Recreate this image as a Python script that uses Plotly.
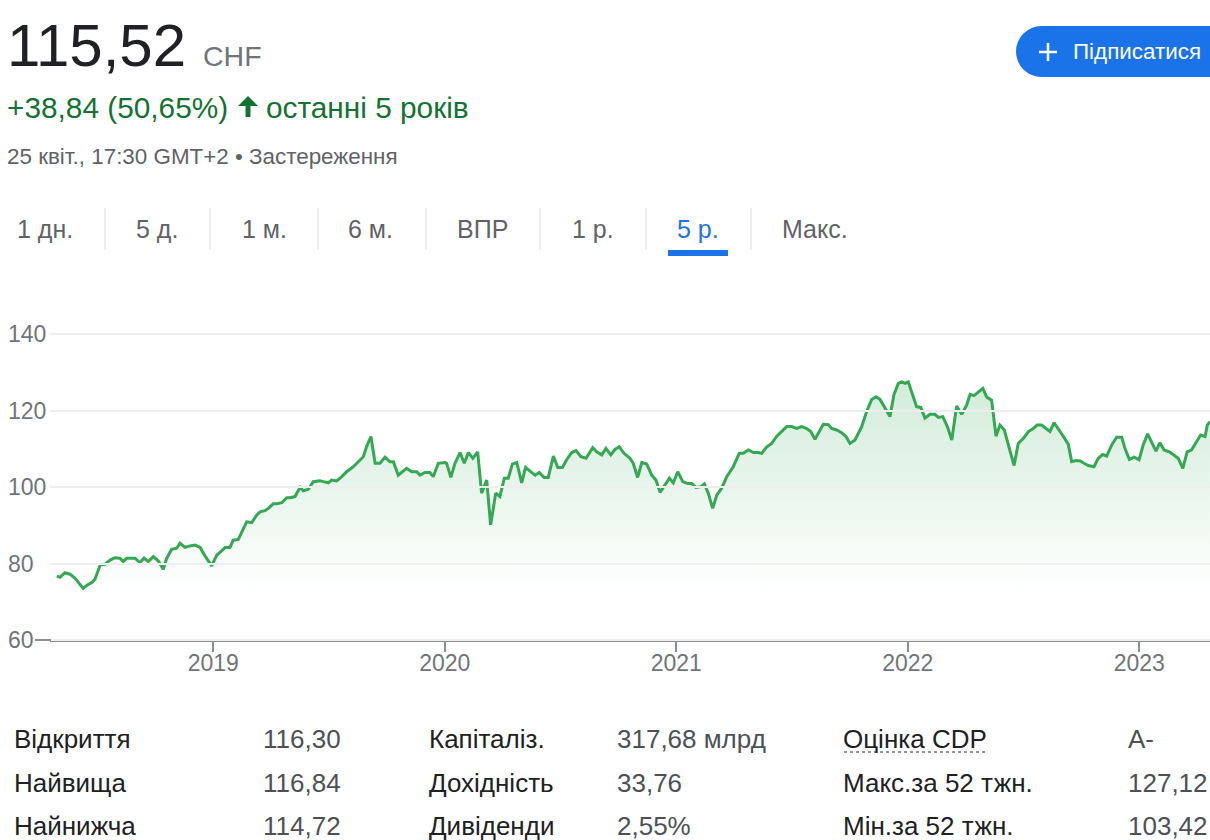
import plotly.graph_objects as go

# ---------------- data ----------------
dates_dec = [
    2018.324, 2018.338, 2018.359, 2018.381, 2018.403, 2018.438, 2018.456, 2018.475, 2018.489, 2018.511,
    2018.532, 2018.554, 2018.575, 2018.597, 2018.611, 2018.626, 2018.662, 2018.683, 2018.701, 2018.719,
    2018.741, 2018.762, 2018.784, 2018.799, 2018.820, 2018.842, 2018.856, 2018.878, 2018.899, 2018.921,
    2018.943, 2018.964, 2018.993, 2019.015, 2019.036, 2019.051, 2019.072, 2019.086, 2019.108, 2019.130,
    2019.144, 2019.166, 2019.188, 2019.202, 2019.223, 2019.238, 2019.259, 2019.274, 2019.296, 2019.317,
    2019.331, 2019.353, 2019.375, 2019.389, 2019.410, 2019.432, 2019.461, 2019.475, 2019.497, 2019.511,
    2019.533, 2019.555, 2019.576, 2019.605, 2019.626, 2019.648, 2019.663, 2019.681, 2019.699, 2019.720,
    2019.742, 2019.763, 2019.778, 2019.799, 2019.835, 2019.857, 2019.879, 2019.893, 2019.914, 2019.936,
    2019.950, 2019.972, 2020.001, 2020.008, 2020.026, 2020.044, 2020.066, 2020.084, 2020.102, 2020.121,
    2020.142, 2020.159, 2020.181, 2020.198, 2020.220, 2020.238, 2020.257, 2020.274, 2020.292, 2020.311,
    2020.332, 2020.349, 2020.371, 2020.390, 2020.408, 2020.429, 2020.447, 2020.469, 2020.488, 2020.508,
    2020.527, 2020.548, 2020.567, 2020.588, 2020.610, 2020.639, 2020.656, 2020.678, 2020.696, 2020.717,
    2020.735, 2020.754, 2020.774, 2020.800, 2020.814, 2020.833, 2020.851, 2020.872, 2020.894, 2020.912,
    2020.930, 2020.951, 2020.970, 2020.987, 2021.006, 2021.028, 2021.049, 2021.067, 2021.085, 2021.107,
    2021.121, 2021.138, 2021.157, 2021.175, 2021.196, 2021.218, 2021.246, 2021.272, 2021.289, 2021.311,
    2021.333, 2021.354, 2021.369, 2021.391, 2021.412, 2021.434, 2021.455, 2021.477, 2021.499, 2021.520,
    2021.542, 2021.563, 2021.581, 2021.599, 2021.635, 2021.657, 2021.671, 2021.693, 2021.714, 2021.733,
    2021.750, 2021.772, 2021.801, 2021.822, 2021.844, 2021.863, 2021.880, 2021.901, 2021.923, 2021.940,
    2021.959, 2021.974, 2021.988, 2022.002, 2022.017, 2022.038, 2022.056, 2022.074, 2022.096, 2022.117,
    2022.132, 2022.151, 2022.171, 2022.190, 2022.211, 2022.233, 2022.254, 2022.269, 2022.286, 2022.305,
    2022.324, 2022.341, 2022.362, 2022.381, 2022.398, 2022.417, 2022.438, 2022.459, 2022.477, 2022.499,
    2022.521, 2022.542, 2022.559, 2022.578, 2022.597, 2022.614, 2022.632, 2022.650, 2022.672, 2022.693,
    2022.708, 2022.727, 2022.744, 2022.761, 2022.780, 2022.804, 2022.823, 2022.842, 2022.859, 2022.881,
    2022.902, 2022.924, 2022.938, 2022.957, 2022.978, 2022.999, 2023.017, 2023.036, 2023.054, 2023.072,
    2023.089, 2023.107, 2023.130, 2023.147, 2023.168, 2023.188, 2023.207, 2023.226, 2023.248, 2023.265,
    2023.284, 2023.294, 2023.305,
]
prices = [
    76.7, 76.4, 77.6, 77.2, 76.1, 73.5, 74.4, 75.0, 75.9, 79.6,
    79.8, 80.9, 81.5, 81.4, 80.5, 81.4, 81.4, 80.2, 81.4, 80.5,
    81.8, 80.7, 78.5, 81.4, 83.7, 84.0, 85.3, 84.2, 84.6, 84.8,
    84.2, 82.0, 79.4, 82.2, 83.3, 84.2, 84.2, 86.1, 86.3, 89.2,
    90.9, 90.7, 92.7, 93.5, 93.8, 94.4, 95.6, 95.6, 95.9, 97.2,
    97.2, 97.5, 99.9, 99.0, 99.4, 101.4, 101.6, 101.4, 101.1, 101.8,
    101.6, 102.7, 104.0, 105.3, 106.6, 107.9, 110.7, 113.2, 106.2, 106.2,
    107.8, 106.6, 106.6, 103.1, 104.9, 104.0, 104.0, 103.1, 103.8, 103.8,
    102.7, 106.2, 106.4, 106.2, 102.5, 106.2, 109.0, 106.2, 109.0, 107.5,
    109.2, 98.4, 101.8, 90.1, 98.4, 97.5, 102.3, 102.3, 106.0, 106.4,
    101.1, 105.1, 104.0, 103.1, 103.8, 102.5, 102.5, 108.1, 105.1, 105.1,
    107.2, 109.0, 109.5, 107.9, 107.5, 110.3, 109.2, 108.4, 110.1, 108.4,
    109.8, 110.5, 108.8, 107.5, 106.2, 102.5, 106.4, 106.0, 103.1, 101.8,
    98.6, 100.5, 102.3, 101.1, 104.0, 101.4, 100.9, 100.9, 99.9, 100.1,
    100.8, 98.4, 94.4, 97.9, 99.7, 102.7, 105.3, 108.8, 108.8, 109.7,
    109.0, 109.0, 108.8, 110.5, 111.4, 113.3, 114.5, 115.8, 115.8, 115.3,
    115.8, 115.3, 114.5, 112.5, 116.4, 116.3, 115.3, 114.9, 114.2, 113.2,
    111.4, 112.3, 115.8, 119.7, 122.9, 123.6, 122.9, 120.6, 118.4, 124.1,
    127.1, 127.5, 127.1, 127.5, 124.9, 121.0, 120.8, 118.0, 119.0, 119.0,
    118.2, 118.4, 115.8, 112.3, 121.2, 119.0, 121.4, 124.2, 123.9, 124.8,
    125.8, 123.5, 122.7, 113.3, 116.2, 114.9, 110.1, 105.6, 111.4, 112.7,
    114.5, 115.3, 116.2, 116.2, 115.3, 114.5, 116.8, 115.3, 113.2, 111.2,
    106.6, 106.9, 106.8, 106.2, 105.6, 105.3, 107.5, 108.5, 108.1, 111.0,
    113.0, 113.0, 110.1, 107.2, 107.8, 107.1, 111.0, 113.9, 111.8, 109.4,
    111.6, 109.7, 109.2, 108.4, 107.5, 104.9, 109.2, 109.7, 111.8, 113.6,
    113.2, 116.2, 117.1,
]

year_ticks = [2019, 2020, 2021, 2022, 2023]
year_labels = ["2019", "2020", "2021", "2022", "2023"]
price_ticks = [60, 80, 100, 120, 140]
price_labels = ["60", "80", "100", "120", "140"]

price_text = "115,52"
currency = "CHF"
change_text = "+38,84 (50,65%)"
period_text = "останні 5 років"
date_text = "25 квіт., 17:30 GMT+2 • Застереження"
button_text = "Підписатися"

tabs = ["1 дн.", "5 д.", "1 м.", "6 м.", "ВПР", "1 р.", "5 р.", "Макс."]
active_tab = "5 р."

table_labels_1 = ["Відкриття", "Найвища", "Найнижча"]
table_values_1 = ["116,30", "116,84", "114,72"]
table_labels_2 = ["Капіталіз.", "Дохідність", "Дивіденди"]
table_values_2 = ["317,68 млрд", "33,76", "2,55%"]
table_labels_3 = ["Оцінка CDP", "Макс.за 52 тжн.", "Мін.за 52 тжн."]
table_values_3 = ["A-", "127,12", "103,42"]

# ---------------- layout helpers ----------------
OFF = 0                     # body margin is removed by the post script
W, H = 1210, 840
PLOT_TOP, PLOT_BOT = 334 - OFF, 640 - OFF      # main plot area (figure px)
EXT = 16                                       # extra room for the y labels
ML, MR = 0, 0
MT = PLOT_TOP - EXT
MB = H - (PLOT_BOT + EXT)
PW, PH = W - ML - MR, H - MT - MB
Y_MIN, Y_MAX = 60, 140
units_per_px = (Y_MAX - Y_MIN) / (PLOT_BOT - PLOT_TOP)


def px(x):
    return (x - OFF - ML) / PW


def py(y):
    return (H - MB - (y - OFF)) / PH


FONT = "Arial, Liberation Sans, sans-serif"
GREEN = "#34a853"
DARK_GREEN = "#137333"
GREY = "#70757a"
BLUE = "#1a73e8"

fig = go.Figure()
fig.add_trace(go.Scatter(
    x=dates_dec, y=prices, mode="lines",
    line=dict(color=GREEN, width=3),
    fill="tozeroy",
    fillgradient=dict(type="vertical",
                      colorscale=[[0, "rgba(52,168,83,0)"], [1, "rgba(52,168,83,0.22)"]],
                      start=72, stop=128),
    hoverinfo="skip", showlegend=False,
))
# invisible helper trace that carries the labelled y axis
fig.add_trace(go.Scatter(
    x=dates_dec[:1], y=prices[:1], yaxis="y2", mode="markers",
    marker=dict(opacity=0), hoverinfo="skip", showlegend=False,
))

annotations = []
shapes = []


def text(x, y, s, size, color, anchor="left"):
    annotations.append(dict(
        x=px(x), y=py(y), xref="paper", yref="paper", text=s, showarrow=False,
        xanchor=anchor, yanchor="middle",
        font=dict(family=FONT, size=size, color=color)))


# header
text(5, 45, price_text, 60, "#202124")
text(201, 56, currency, 28.5, GREY)
text(5, 107, change_text, 29.8, DARK_GREEN)
text(264, 107, period_text, 29.8, DARK_GREEN)
text(5, 157, date_text, 22.4, "#5f6368")

# up arrow icon
ax0, ay0 = 248, 96
arrow_pts = [(ax0, ay0), (ax0 + 10, ay0 + 10), (ax0 + 2.5, ay0 + 10), (ax0 + 2.5, ay0 + 21),
             (ax0 - 2.5, ay0 + 21), (ax0 - 2.5, ay0 + 10), (ax0 - 10, ay0 + 10)]
path = "M " + " L ".join(f"{px(a)},{py(b)}" for a, b in arrow_pts) + " Z"
shapes.append(dict(type="path", xref="paper", yref="paper", path=path,
                   fillcolor=DARK_GREEN, line=dict(width=0)))

# subscribe button (pill)
shapes.append(dict(type="circle", xref="paper", yref="paper",
                   x0=px(1016), x1=px(1067), y0=py(77), y1=py(26),
                   fillcolor=BLUE, line=dict(width=0)))
shapes.append(dict(type="rect", xref="paper", yref="paper",
                   x0=px(1041), x1=px(1240), y0=py(77), y1=py(26),
                   fillcolor=BLUE, line=dict(width=0)))
shapes.append(dict(type="line", xref="paper", yref="paper",
                   x0=px(1039), x1=px(1057), y0=py(52), y1=py(52),
                   line=dict(color="white", width=2.5)))
shapes.append(dict(type="line", xref="paper", yref="paper",
                   x0=px(1048), x1=px(1048), y0=py(43), y1=py(61),
                   line=dict(color="white", width=2.5)))
text(1071, 51, button_text, 22.4, "white")

# tabs
tab_x = [17, 136, 242, 348, 457, 572, 677, 782]
sep_x = [105, 210, 318, 426, 540, 646, 751]
for t, x in zip(tabs, tab_x):
    text(x - 2, 229, t, 25, BLUE if t == active_tab else "#5f6368")
for x in sep_x:
    shapes.append(dict(type="line", xref="paper", yref="paper",
                       x0=px(x), x1=px(x), y0=py(208), y1=py(250),
                       line=dict(color="#dadce0", width=1)))
shapes.append(dict(type="rect", xref="paper", yref="paper",
                   x0=px(668), x1=px(728), y0=py(256), y1=py(250),
                   fillcolor=BLUE, line=dict(width=0)))

# axis line extension to the left
shapes.append(dict(type="line", xref="paper", yref="paper",
                   x0=px(35), x1=px(51), y0=py(640), y1=py(640),
                   line=dict(color="#8c9095", width=2)))

# bottom table
row_y = [739, 783, 826]
cols = [(14, table_labels_1, "#202124"), (263, table_values_1, "#4d5156"),
        (429, table_labels_2, "#202124"), (617, table_values_2, "#4d5156"),
        (843, table_labels_3, "#202124"), (1128, table_values_3, "#4d5156")]
for x, col, color in cols:
    for s, y in zip(col, row_y):
        text(x - 2, y, s, 26, color)
shapes.append(dict(type="line", xref="paper", yref="paper",
                   x0=px(844), x1=px(987), y0=py(752), y1=py(752),
                   line=dict(color="#70757a", width=1.5, dash="dot")))

main_domain = [EXT / PH, (PH - EXT) / PH]
y2_range = [Y_MIN - EXT * units_per_px, Y_MAX + EXT * units_per_px]

fig.update_layout(
    width=W, height=H,
    margin=dict(l=ML, r=MR, t=MT, b=MB),
    paper_bgcolor="white", plot_bgcolor="rgba(0,0,0,0)",
    font=dict(family=FONT),
    annotations=annotations, shapes=shapes,
    xaxis=dict(
        domain=[px(50), 1],
        range=[2018.2946, 2023.3054],
        tickvals=year_ticks, ticktext=year_labels,
        showgrid=False, zeroline=False,
        showline=True, linecolor="#8c9095", linewidth=2,
        ticks="outside", ticklen=10, tickwidth=2, tickcolor="#8c9095",
        ticklabelstandoff=-9,
        tickfont=dict(size=23, color=GREY, family=FONT),
    ),
    yaxis=dict(
        domain=main_domain,
        range=[Y_MIN, Y_MAX],
        showgrid=False, zeroline=False, showline=False,
        showticklabels=False, ticks="",
    ),
    yaxis2=dict(
        domain=[0, 1],
        range=y2_range,
        tickvals=price_ticks, ticktext=price_labels,
        anchor="free", position=0,
        ticklabelposition="inside",
        ticklabelstandoff=4,
        showgrid=True, gridcolor="#eeeeee", gridwidth=2,
        zeroline=False, showline=False, ticks="",
        tickfont=dict(size=23, color=GREY, family=FONT),
    ),
)

fig.write_html(
    "out.html",
    config={"displayModeBar": False},
    post_script="document.body.style.margin='0px';document.body.style.overflow='hidden';",
)
